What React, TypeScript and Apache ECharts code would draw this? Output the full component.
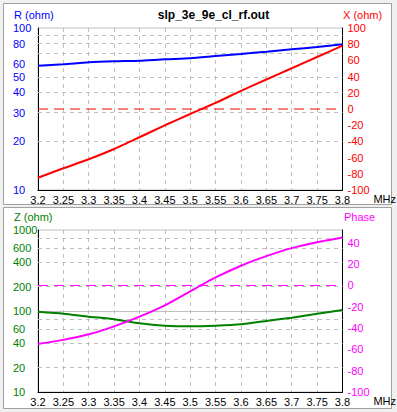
import React, { useEffect, useRef } from "react";
import * as echarts from "echarts";

const freqs = [3.2, 3.25, 3.3, 3.35, 3.4, 3.45, 3.5, 3.55, 3.6, 3.65, 3.7, 3.75, 3.8];
const rOhm = [58.5, 59.7, 61.4, 62.3, 62.8, 64.1, 65.0, 67.1, 69.1, 71.4, 73.9, 76.3, 79.3];
const xOhm = [-84.8, -73.2, -62.1, -49.4, -34.9, -20.1, -6.2, 7.5, 22.4, 36.4, 50.3, 64.2, 78.2];
const zOhm = [97.9, 92.7, 85.1, 79.0, 70.5, 65.9, 64.7, 65.9, 68.5, 75.3, 82.7, 92.7, 102.9];
const phaseDeg = [-54.9, -51.1, -45.9, -38.4, -29.3, -18.7, -5.5, 7.5, 18.5, 27.5, 35, 40.5, 45];

const rLabels = [10, 20, 30, 40, 50, 60, 80, 100];
const rGrid = [20, 30, 40, 50, 70, 80, 90];
const zLabels = [10, 20, 40, 60, 100, 200, 400, 600, 1000];
const zGrid = [20, 40, 60, 80, 200, 400, 600, 800];
const zSolid = [100];
const phaseLabels = [-100, -80, -60, -40, -20, 0, 20, 40];
const zeroRef = [0];

const title = "slp_3e_9e_cl_rf.out";

const FONT = "'Liberation Sans', Arial, sans-serif";
const GRID_C = "#c0c0c0";

function pairs(ys: number[]) {
  return freqs.map((f, i) => [f, ys[i]]);
}

export default function App() {
  const ref = useRef<HTMLDivElement>(null);
  useEffect(() => {
    document.body.style.margin = "0";
    const chart = echarts.init(ref.current!, null, { renderer: "svg" });
    const xAxisBase = (gridIndex: number) => ({
      type: "value",
      gridIndex,
      min: 3.2,
      max: 3.8,
      interval: 0.05,
      position: "bottom",
      name: "MHz",
      nameLocation: "end",
      nameGap: 9,
      nameTextStyle: { color: "#000", fontFamily: FONT, fontSize: 11, verticalAlign: "top", padding: [3, 0, 0, 0] },
      axisLine: { show: true, onZero: false, lineStyle: { color: "#000", width: 1 } },
      axisTick: { show: false },
      axisLabel: {
        color: "#000",
        fontFamily: FONT,
        fontSize: 11,
        margin: 4,
        interval: 0,
        formatter: (v: number) => String(parseFloat(v.toFixed(2))),
      },
      splitLine: { show: true, lineStyle: { color: GRID_C, type: [4, 4], width: 1 } },
    });
    const gridMark = (vals: number[], solid: boolean) => ({
      silent: true,
      symbol: ["none", "none"],
      label: { show: false },
      lineStyle: { color: GRID_C, type: solid ? "solid" : [4, 4], width: 1 },
      emphasis: { disabled: true },
      data: vals.map((v) => ({ yAxis: v })),
    });
    const refLine = (xIdx: number, yIdx: number, color: string) => ({
      type: "line",
      xAxisIndex: xIdx,
      yAxisIndex: yIdx,
      z: 3,
      silent: true,
      showSymbol: false,
      color,
      lineStyle: { color, width: 1, type: [10, 6] },
      data: [
        [freqs[0], zeroRef[0]],
        [freqs[freqs.length - 1], zeroRef[0]],
      ],
    });
    const plainNum = (v: number) => String(Math.round(v));
    chart.setOption({
      animation: false,
      backgroundColor: "#f0f0f0",
      graphic: [
        { type: "rect", shape: { x: 3.5, y: 3.5, width: 388, height: 201 }, style: { fill: "#fff", stroke: "#a0a0a0", lineWidth: 1 }, z: -10 },
        { type: "rect", shape: { x: 3.5, y: 207.5, width: 388, height: 201 }, style: { fill: "#fff", stroke: "#a0a0a0", lineWidth: 1 }, z: -10 },
        { type: "text", x: 213.5, y: 15, style: { text: title, fill: "#000", font: `bold 12px ${FONT}`, textAlign: "center", textVerticalAlign: "middle" } },
        { type: "text", x: 14, y: 15, style: { text: "R (ohm)", fill: "#0000ff", font: `11px ${FONT}`, textAlign: "left", textVerticalAlign: "middle" } },
        { type: "text", x: 343, y: 15, style: { text: "X (ohm)", fill: "#ff0000", font: `11px ${FONT}`, textAlign: "left", textVerticalAlign: "middle" } },
        { type: "text", x: 14, y: 217, style: { text: "Z (ohm)", fill: "#008000", font: `11px ${FONT}`, textAlign: "left", textVerticalAlign: "middle" } },
        { type: "text", x: 344, y: 217, style: { text: "Phase", fill: "#ff00ff", font: `11px ${FONT}`, textAlign: "left", textVerticalAlign: "middle" } },
      ],
      grid: [
        { left: 38, width: 321, top: 28, height: 162, show: true, borderColor: GRID_C, borderWidth: 1, backgroundColor: "transparent" },
        { left: 38, width: 321, top: 230, height: 162, show: true, borderColor: GRID_C, borderWidth: 1, backgroundColor: "transparent" },
      ],
      xAxis: [xAxisBase(0), xAxisBase(1)],
      yAxis: [
        {
          type: "log", logBase: 10, gridIndex: 0, min: 10, max: 100, position: "left",
          axisLine: { show: true, onZero: false, lineStyle: { color: "#000" } },
          axisTick: { show: false },
          splitLine: { show: false },
          axisLabel: { customValues: rLabels, formatter: plainNum, color: "#0000ff", fontFamily: FONT, fontSize: 11, align: "left", margin: 25 },
        },
        {
          type: "value", gridIndex: 0, min: -100, max: 100, interval: 20, position: "right",
          axisLine: { show: true, onZero: false, lineStyle: { color: "#000" } },
          axisTick: { show: false },
          splitLine: { show: false },
          axisLabel: { color: "#ff0000", fontFamily: FONT, fontSize: 11, align: "left", margin: 5 },
        },
        {
          type: "log", logBase: 10, gridIndex: 1, min: 10, max: 1000, position: "left",
          axisLine: { show: true, onZero: false, lineStyle: { color: "#000" } },
          axisTick: { show: false },
          splitLine: { show: false },
          axisLabel: { customValues: zLabels, formatter: plainNum, color: "#008000", fontFamily: FONT, fontSize: 11, align: "left", margin: 25 },
        },
        {
          type: "value", gridIndex: 1, min: -100, max: 52, position: "right",
          axisLine: { show: true, onZero: false, lineStyle: { color: "#000" } },
          axisTick: { show: false },
          splitLine: { show: false },
          axisLabel: { customValues: phaseLabels, formatter: plainNum, color: "#ff00ff", fontFamily: FONT, fontSize: 11, align: "left", margin: 5 },
        },
      ],
      series: [
        {
          type: "line", xAxisIndex: 0, yAxisIndex: 0, data: [], z: 1, color: GRID_C,
          markLine: gridMark(rGrid, false),
        },
        {
          type: "line", xAxisIndex: 1, yAxisIndex: 2, data: [], z: 1, color: GRID_C,
          markLine: gridMark(zGrid, false),
        },
        {
          type: "line", xAxisIndex: 1, yAxisIndex: 2, data: [], z: 1, color: GRID_C,
          markLine: gridMark(zSolid, true),
        },
        refLine(0, 1, "#ff0000"),
        refLine(1, 3, "#ff00ff"),
        {
          name: "R", type: "line", xAxisIndex: 0, yAxisIndex: 0, data: pairs(rOhm), z: 5, color: "#0000ff",
          showSymbol: false, smooth: 0.2, lineStyle: { color: "#0000ff", width: 2 },
        },
        {
          name: "X", type: "line", xAxisIndex: 0, yAxisIndex: 1, data: pairs(xOhm), z: 5, color: "#ff0000",
          showSymbol: false, smooth: 0.2, lineStyle: { color: "#ff0000", width: 2 },
        },
        {
          name: "Z", type: "line", xAxisIndex: 1, yAxisIndex: 2, data: pairs(zOhm), z: 5, color: "#008000",
          showSymbol: false, smooth: 0.2, lineStyle: { color: "#008000", width: 2 },
        },
        {
          name: "Phase", type: "line", xAxisIndex: 1, yAxisIndex: 3, data: pairs(phaseDeg), z: 5, color: "#ff00ff",
          showSymbol: false, smooth: 0.2, lineStyle: { color: "#ff00ff", width: 2 },
        },
      ],
    });
    return () => chart.dispose();
  }, []);
  return (
    <div
      ref={ref}
      style={{ position: "absolute", left: 0, top: 0, width: 397, height: 412 }}
    />
  );
}
